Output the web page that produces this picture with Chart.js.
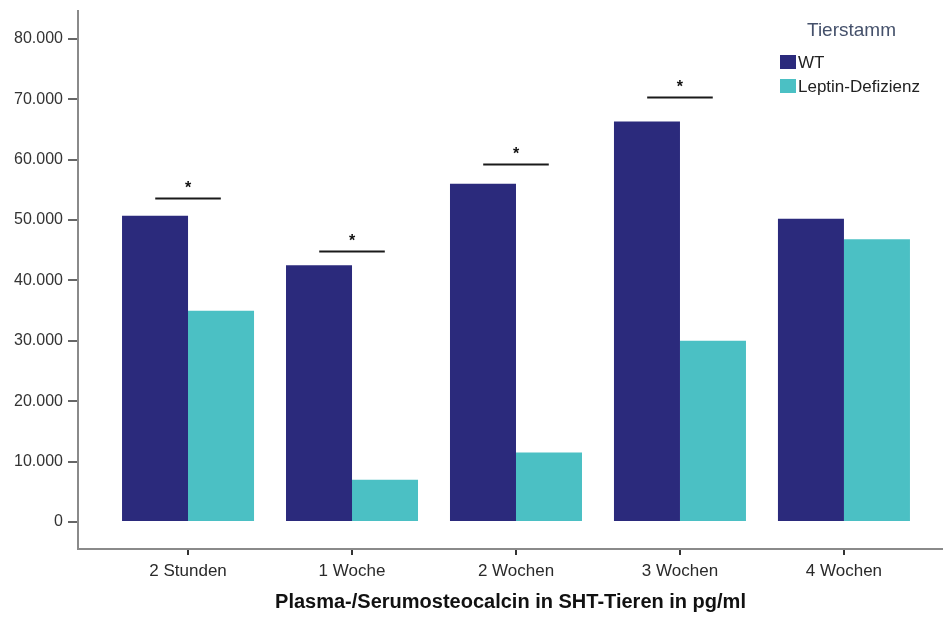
<!DOCTYPE html>
<html>
<head>
<meta charset="utf-8">
<script src="https://cdn.jsdelivr.net/npm/chart.js@4.4.1/dist/chart.umd.min.js"></script>
<style>
  html, body { margin: 0; padding: 0; background: #ffffff; }
  #wrap { width: 943px; height: 622px; position: relative; }
</style>
</head>
<body>
<div id="wrap"><canvas id="c" width="943" height="622"></canvas></div>
<script>
// Plasma-/Serum osteocalcin (pg/ml) by time point and strain
const categories = ['2 Stunden', '1 Woche', '2 Wochen', '3 Wochen', '4 Wochen'];
const wtValues = [50700, 42500, 56000, 66300, 50200];
const leptinValues = [35000, 7000, 11500, 30000, 46800];
const seriesNames = ['WT', 'Leptin-Defizienz'];
const legendTitle = 'Tierstamm';
const axisTitle = 'Plasma-/Serumosteocalcin in SHT-Tieren in pg/ml';
const yTicks = [0, 10000, 20000, 30000, 40000, 50000, 60000, 70000, 80000];
// significance brackets: category index and height of the bar line
const sigCategory = [0, 1, 2, 3];
const sigLevel = [53700, 44800, 59300, 70400];
const sigMark = '*';

const NAVY = '#2b2a7c';
const CYAN = '#4bc0c4';
const FONT = '"Liberation Sans", Arial, sans-serif';

function formatDe(v) {
  return String(Math.round(v)).replace(/\B(?=(\d{3})+(?!\d))/g, '.');
}

const points = arr => arr.map((v, i) => ({ x: i, y: v }));

const sigPlugin = {
  id: 'sigBrackets',
  afterDatasetsDraw(chart) {
    const { ctx, scales: { x, y } } = chart;
    ctx.save();
    ctx.strokeStyle = '#1a1a1a';
    ctx.lineWidth = 2;
    ctx.fillStyle = '#111';
    ctx.font = 'bold 16px ' + FONT;
    ctx.textAlign = 'center';
    ctx.textBaseline = 'middle';
    sigCategory.forEach((ci, k) => {
      const x0 = x.getPixelForValue(ci - 0.2);
      const x1 = x.getPixelForValue(ci + 0.2);
      const py = Math.round(y.getPixelForValue(sigLevel[k])) + 0.5;
      ctx.beginPath();
      ctx.moveTo(x0, py);
      ctx.lineTo(x1, py);
      ctx.stroke();
      ctx.fillText(sigMark, (x0 + x1) / 2, py - 10);
    });
    ctx.restore();
  }
};

const legendPlugin = {
  id: 'strainLegend',
  afterDraw(chart) {
    const { ctx } = chart;
    ctx.save();
    ctx.textBaseline = 'middle';
    ctx.textAlign = 'left';
    ctx.fillStyle = '#45516b';
    ctx.font = '19px ' + FONT;
    ctx.fillText(legendTitle, 807, 31);
    ctx.font = '17px ' + FONT;
    chart.data.datasets.forEach((ds, i) => {
      const top = 55 + i * 24;
      ctx.fillStyle = ds.backgroundColor;
      ctx.fillRect(780, top, 16, 14);
      ctx.fillStyle = '#222';
      ctx.fillText(ds.label, 798, top + 8);
    });
    ctx.restore();
  }
};

new Chart(document.getElementById('c'), {
  type: 'bar',
  data: {
    datasets: [
      { label: seriesNames[0], data: points(wtValues), backgroundColor: NAVY, borderWidth: 0 },
      { label: seriesNames[1], data: points(leptinValues), backgroundColor: CYAN, borderWidth: 0 }
    ]
  },
  options: {
    responsive: false,
    animation: false,
    devicePixelRatio: 1,
    layout: { padding: { top: 11, right: 0, bottom: 0, left: 0 } },
    categoryPercentage: 0.805,
    barPercentage: 1,
    plugins: {
      legend: { display: false },
      tooltip: { enabled: false }
    },
    scales: {
      x: {
        type: 'linear',
        offset: false,
        min: -0.671,
        max: 4.604,
        afterBuildTicks: s => { s.ticks = categories.map((_, i) => ({ value: i })); },
        afterFit: s => { s.height = 73; s.paddingLeft = 0; s.paddingRight = 0; },
        ticks: {
          callback: v => categories[v] ?? '',
          color: '#2a2a2a',
          font: { family: FONT, size: 17 },
          padding: 6,
          maxRotation: 0,
          autoSkip: false
        },
        grid: { offset: false, drawOnChartArea: false, drawTicks: true, tickLength: 6, color: '#333', lineWidth: 2 },
        border: { display: true, color: '#8a8a8a', width: 2 },
        title: {
          display: true,
          text: axisTitle,
          color: '#111',
          font: { family: FONT, size: 20, weight: 'bold' },
          padding: { top: 0, bottom: 8 }
        }
      },
      y: {
        min: -4460,
        max: 84600,
        afterBuildTicks: s => { s.ticks = yTicks.map(v => ({ value: v })); },
        afterFit: s => { s.width = 78; s.paddingTop = 0; s.paddingBottom = 0; },
        ticks: {
          callback: v => formatDe(v),
          color: '#333',
          font: { family: FONT, size: 16 },
          padding: 5
        },
        grid: { drawOnChartArea: false, drawTicks: true, tickLength: 10, color: '#666', lineWidth: 2 },
        border: { display: true, color: '#8a8a8a', width: 2 }
      }
    }
  },
  plugins: [sigPlugin, legendPlugin]
});
</script>
</body>
</html>
